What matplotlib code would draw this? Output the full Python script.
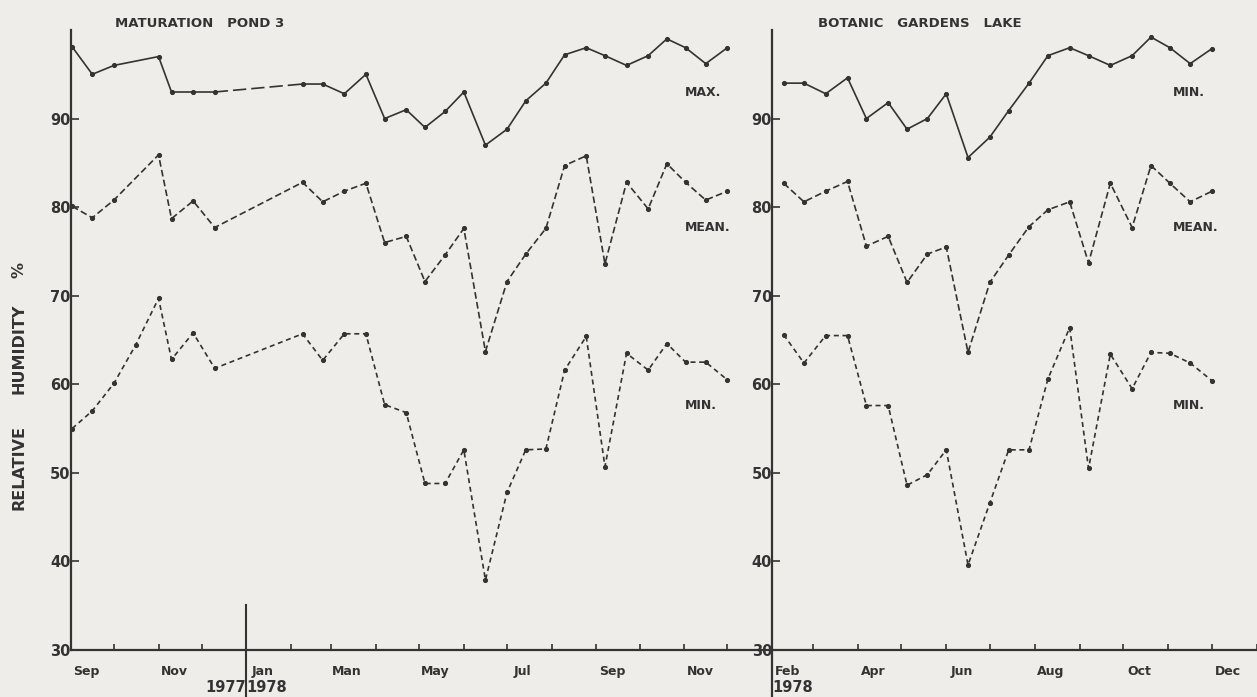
import numpy as np
import matplotlib
matplotlib.use('Agg')
import matplotlib.pyplot as plt
import matplotlib.dates as mdates
import matplotlib.transforms as mtransforms
from matplotlib.lines import Line2D

plt.rcParams['font.family'] = 'DejaVu Sans'
plt.rcParams['font.weight'] = 'bold'
plt.rcParams['xtick.direction'] = 'in'
plt.rcParams['ytick.direction'] = 'in'

ink = '#333333'
paper = '#eeede9'

# sampling dates
pond_dates_1977 = ['1977-09-02', '1977-09-16', '1977-10-01', '1977-11-01',
                   '1977-11-10', '1977-11-25', '1977-12-10']
pond_min_dates_1977 = ['1977-09-02', '1977-09-16', '1977-10-01', '1977-10-16',
                       '1977-11-01', '1977-11-10', '1977-11-25', '1977-12-10']
dates_1978 = ['1978-02-09', '1978-02-23', '1978-03-10', '1978-03-25', '1978-04-07',
              '1978-04-22', '1978-05-05', '1978-05-19', '1978-06-01', '1978-06-16',
              '1978-07-01', '1978-07-14', '1978-07-28', '1978-08-10', '1978-08-25',
              '1978-09-07', '1978-09-22', '1978-10-07', '1978-10-20', '1978-11-02',
              '1978-11-16', '1978-12-01']

# Maturation pond 3, relative humidity %
pond_max = [98.1, 95.0, 96.0, 97.0, 93.0, 93.0, 93.0,
            93.9, 93.9, 92.8, 95.0, 90.0, 91.0, 89.0, 90.8, 93.0, 87.0, 88.8,
            92.0, 94.0, 97.2, 98.0, 97.1, 96.0, 97.1, 99.0, 98.0, 96.2, 98.0]
pond_mean = [80.1, 78.8, 80.8, 85.9, 78.7, 80.7, 77.7,
             82.8, 80.6, 81.8, 82.7, 76.0, 76.7, 71.6, 74.6, 77.6, 63.7, 71.6,
             74.7, 77.6, 84.7, 85.8, 73.6, 82.8, 79.8, 84.9, 82.8, 80.8, 81.8]
pond_min = [55.0, 57.0, 60.1, 64.4, 69.7, 62.8, 65.8, 61.8,
            65.7, 62.7, 65.7, 65.7, 57.7, 56.8, 48.8, 48.8, 52.6, 37.9, 47.8,
            52.6, 52.7, 61.6, 65.4, 50.7, 63.5, 61.6, 64.6, 62.5, 62.5, 60.5]

# Botanic Gardens lake, relative humidity %
lake_max = [94.0, 94.0, 92.8, 94.6, 90.0, 91.8, 88.8, 90.0, 92.8, 85.6, 87.9,
            90.9, 94.0, 97.1, 98.0, 97.1, 96.0, 97.1, 99.2, 98.0, 96.2, 97.9]
lake_mean = [82.7, 80.6, 81.8, 82.9, 75.6, 76.7, 71.5, 74.7, 75.5, 63.6, 71.5,
             74.6, 77.8, 79.7, 80.6, 73.7, 82.7, 77.7, 84.7, 82.7, 80.6, 81.8]
lake_min = [65.6, 62.4, 65.5, 65.5, 57.6, 57.6, 48.6, 49.8, 52.6, 39.6, 46.6,
            52.6, 52.6, 60.6, 66.4, 50.5, 63.4, 59.5, 63.6, 63.5, 62.4, 60.4]

pond_month_labels = ['Sep', 'Nov', 'Jan', 'Man', 'May', 'Jul', 'Sep', 'Nov']
pond_label_months = ['1977-09-12', '1977-11-12', '1978-01-12', '1978-03-12',
                     '1978-05-12', '1978-07-12', '1978-09-12', '1978-11-12']
lake_month_labels = ['Feb', 'Apr', 'Jun', 'Aug', 'Oct', 'Dec']
lake_label_months = ['1978-02-12', '1978-04-12', '1978-06-12', '1978-08-12',
                     '1978-10-12', '1978-12-12']
yticks = [30, 40, 50, 60, 70, 80, 90]


def to_dates(lst):
    return np.array(lst, dtype='datetime64[D]')


pond_dates = to_dates(pond_dates_1977 + dates_1978)
pond_min_dates = to_dates(pond_min_dates_1977 + dates_1978)
lake_dates = to_dates(dates_1978)

W, H = 1257, 697
fig = plt.figure(figsize=(W / 100, H / 100), dpi=100)
fig.patch.set_facecolor(paper)

axL = fig.add_axes([70.7 / W, 47 / H, 701.3 / W, 620 / H])
axR = fig.add_axes([772 / W, 47 / H, 485 / W, 620 / H])

mean_style = dict(color=ink, lw=1.2, dashes=(4, 2), marker='o', ms=2.7)
min_style = dict(color=ink, lw=1.2, dashes=(3, 2.2), marker='o', ms=2.7)
max_style = dict(color=ink, lw=1.2, marker='o', ms=2.7)

# pond: winter gap in the max curve drawn with long dashes
n77 = len(pond_dates_1977)
axL.plot(pond_dates[:n77], pond_max[:n77], **max_style)
axL.plot(pond_dates[n77 - 1:n77 + 1], pond_max[n77 - 1:n77 + 1], color=ink, lw=1.2, dashes=(8, 3))
axL.plot(pond_dates[n77:], pond_max[n77:], **max_style)
axL.plot(pond_dates, pond_mean, **mean_style)
axL.plot(pond_min_dates, pond_min, **min_style)

axR.plot(lake_dates, lake_max, **max_style)
axR.plot(lake_dates, lake_mean, **mean_style)
axR.plot(lake_dates, lake_min, **min_style)

axL.set_xlim(np.datetime64('1977-09-01'), np.datetime64('1979-01-01'))
axR.set_xlim(np.datetime64('1978-02-01'), np.datetime64('1979-01-01'))

for ax, labels, pos in ((axL, pond_month_labels, pond_label_months),
                        (axR, lake_month_labels, lake_label_months)):
    ax.set_facecolor(paper)
    ax.set_ylim(30, 100)
    for s in ('top', 'right'):
        ax.spines[s].set_visible(False)
    for s in ('left', 'bottom'):
        ax.spines[s].set_color(ink)
        ax.spines[s].set_linewidth(1.6)
    ax.set_yticks(yticks)
    ax.set_yticklabels([str(v) for v in yticks], fontsize=10.5, color=ink)
    ax.tick_params(axis='y', length=6, width=1.2, color=ink, pad=0)
    ax.set_xticks(to_dates(pos))
    ax.set_xticklabels(labels, fontsize=9, color=ink)
    ax.xaxis.set_minor_locator(mdates.MonthLocator())
    ax.tick_params(axis='x', which='major', length=0, pad=11)
    ax.tick_params(axis='x', which='minor', length=4, width=1.2, color=ink)
    ax.patch.set_alpha(0)

# axis titles
axL.text(0.063, 1.01, 'MATURATION   POND 3', transform=axL.transAxes,
         fontsize=9.5, color=ink, va='center', ha='left')
axR.text(0.095, 1.01, 'BOTANIC   GARDENS   LAKE', transform=axR.transAxes,
         fontsize=9.5, color=ink, va='center', ha='left')

# series names
for ax, x0, names in ((axL, 0.876, ['MAX.', 'MEAN.', 'MIN.']),
                      (axR, 0.826, ['MIN.', 'MEAN.', 'MIN.'])):
    for name, fy in zip(names, [0.90, 0.681, 0.395]):
        ax.text(x0, fy, name, transform=ax.transAxes, fontsize=9,
                color=ink, va='center', ha='left')

# year split and year labels
tL = mtransforms.blended_transform_factory(axL.transData, axL.transAxes)
tR = mtransforms.blended_transform_factory(axR.transData, axR.transAxes)
jan78 = mdates.date2num(np.datetime64('1978-01-01'))
axL.add_line(Line2D([jan78, jan78], [0.0726, -0.076], transform=tL,
                    color=ink, lw=1.5, clip_on=False))
axL.text(jan78, -0.061, '1977', transform=tL, ha='right', va='center',
         fontsize=10.5, color=ink)
axL.text(jan78, -0.061, '1978', transform=tL, ha='left', va='center',
         fontsize=10.5, color=ink)
feb78 = mdates.date2num(np.datetime64('1978-02-01'))
axR.add_line(Line2D([feb78, feb78], [0, -0.076], transform=tR,
                    color=ink, lw=1.6, clip_on=False))
axR.text(feb78, -0.061, '1978', transform=tR, ha='left', va='center',
         fontsize=10.5, color=ink)

# y-axis label
for word, yc in (('%', 270), ('HUMIDITY', 349), ('RELATIVE', 467)):
    fig.text(19 / W, 1 - yc / H, word, rotation=90, fontsize=11.5,
             color=ink, ha='center', va='center')

fig.savefig('out.png', dpi=100, facecolor=paper)
